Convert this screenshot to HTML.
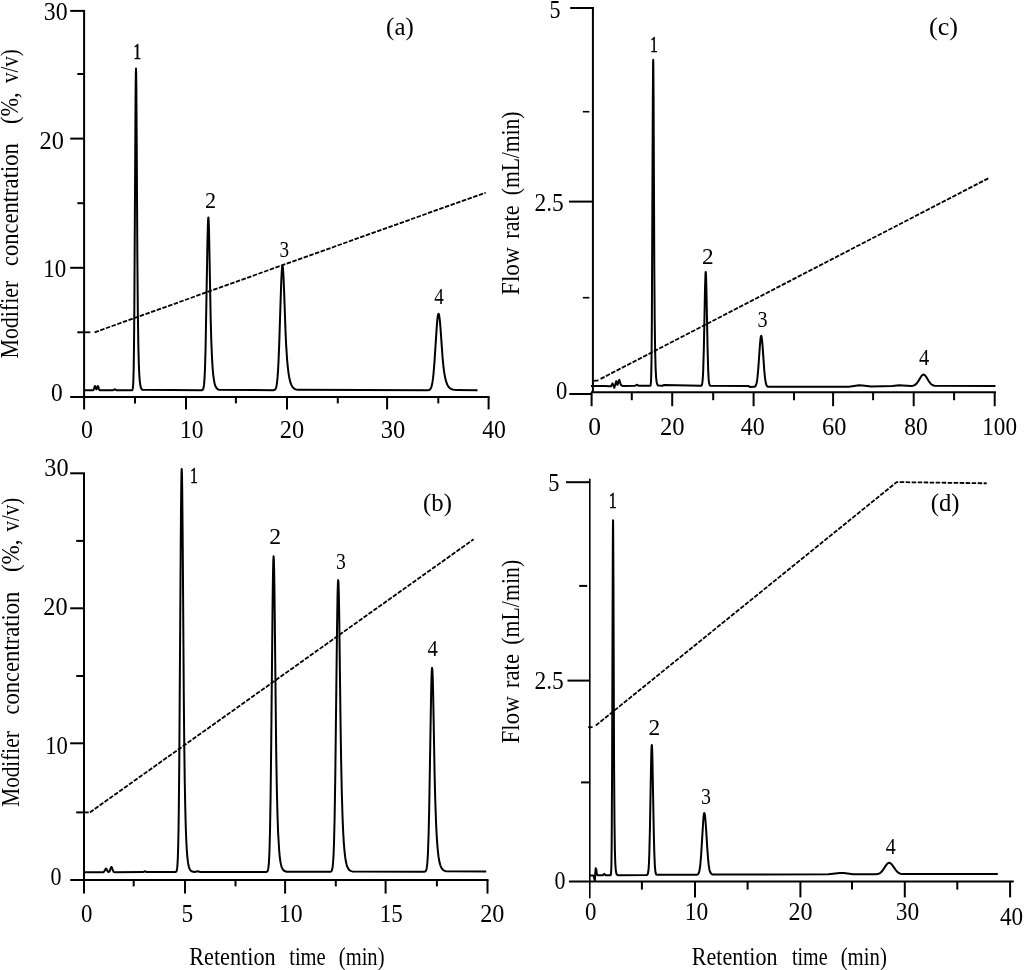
<!DOCTYPE html>
<html><head><meta charset="utf-8"><title>Chromatograms</title>
<style>
html,body{margin:0;padding:0;background:#fff;}
body{width:1024px;height:970px;overflow:hidden;}
svg{display:block;}
svg text{font-family:"Liberation Serif", "Times New Roman", serif;fill:#000;stroke:none;}
</style></head><body>
<svg width="1024" height="970" viewBox="0 0 1024 970" stroke="#000" stroke-linecap="butt">
<rect x="0" y="0" width="1024" height="970" fill="#fff" stroke="none"/>
<g stroke="#000">
<line x1="84.1" y1="10.9" x2="84.1" y2="409.4" stroke-width="2"/>
<line x1="70.2" y1="396.9" x2="489.6" y2="396.9" stroke-width="2"/>
<line x1="488.6" y1="396.9" x2="488.6" y2="409.4" stroke-width="2"/>
<line x1="70.2" y1="10.9" x2="85.1" y2="10.9" stroke-width="2"/>
<line x1="70.2" y1="138.6" x2="84.1" y2="138.6" stroke-width="2"/>
<line x1="70.2" y1="267.8" x2="84.1" y2="267.8" stroke-width="2"/>
<line x1="77.3" y1="74" x2="84.1" y2="74" stroke-width="2"/>
<line x1="77.3" y1="203.2" x2="84.1" y2="203.2" stroke-width="2"/>
<line x1="77.3" y1="332.3" x2="84.1" y2="332.3" stroke-width="2"/>
<line x1="186" y1="396.9" x2="186" y2="409.4" stroke-width="2"/>
<line x1="287" y1="396.9" x2="287" y2="409.4" stroke-width="2"/>
<line x1="387.1" y1="396.9" x2="387.1" y2="409.4" stroke-width="2"/>
<line x1="135" y1="396.9" x2="135" y2="403.4" stroke-width="2"/>
<line x1="235.9" y1="396.9" x2="235.9" y2="403.4" stroke-width="2"/>
<line x1="337.8" y1="396.9" x2="337.8" y2="403.4" stroke-width="2"/>
<line x1="438.3" y1="396.9" x2="438.3" y2="403.4" stroke-width="2"/>
<line x1="84" y1="473.3" x2="84" y2="893.6" stroke-width="2"/>
<line x1="70.2" y1="880.1" x2="488.5" y2="880.1" stroke-width="2"/>
<line x1="487.5" y1="880.1" x2="487.5" y2="893.6" stroke-width="2"/>
<line x1="70.2" y1="473.3" x2="85" y2="473.3" stroke-width="2"/>
<line x1="70.2" y1="608.3" x2="84" y2="608.3" stroke-width="2"/>
<line x1="70.2" y1="743.3" x2="84" y2="743.3" stroke-width="2"/>
<line x1="76.2" y1="540.9" x2="84" y2="540.9" stroke-width="2"/>
<line x1="76.2" y1="676" x2="84" y2="676" stroke-width="2"/>
<line x1="76.2" y1="812.4" x2="84" y2="812.4" stroke-width="2"/>
<line x1="185" y1="880.1" x2="185" y2="893.6" stroke-width="2"/>
<line x1="285.1" y1="880.1" x2="285.1" y2="893.6" stroke-width="2"/>
<line x1="385.6" y1="880.1" x2="385.6" y2="893.6" stroke-width="2"/>
<line x1="133.7" y1="880.1" x2="133.7" y2="886.4" stroke-width="2"/>
<line x1="235.5" y1="880.1" x2="235.5" y2="886.4" stroke-width="2"/>
<line x1="335.8" y1="880.1" x2="335.8" y2="886.4" stroke-width="2"/>
<line x1="436.9" y1="880.1" x2="436.9" y2="886.4" stroke-width="2"/>
<line x1="592.9" y1="7" x2="592.9" y2="392.5" stroke-width="2"/>
<line x1="570.2" y1="8" x2="593.9" y2="8" stroke-width="2"/>
<line x1="569" y1="201.6" x2="592.9" y2="201.6" stroke-width="2"/>
<line x1="569.3" y1="394" x2="591.5" y2="394" stroke-width="2"/>
<line x1="582.8" y1="111.7" x2="589.4" y2="111.7" stroke-width="1.6"/>
<line x1="582.8" y1="297.7" x2="589.4" y2="297.7" stroke-width="1.6"/>
<line x1="591" y1="392.2" x2="996" y2="392.2" stroke-width="2"/>
<line x1="591.6" y1="392.2" x2="591.6" y2="406.2" stroke-width="2"/>
<line x1="672.2" y1="392.2" x2="672.2" y2="406.2" stroke-width="2"/>
<line x1="753.6" y1="392.2" x2="753.6" y2="406.2" stroke-width="2"/>
<line x1="833.1" y1="392.2" x2="833.1" y2="406.2" stroke-width="2"/>
<line x1="913.7" y1="392.2" x2="913.7" y2="406.2" stroke-width="2"/>
<line x1="994.7" y1="392.2" x2="994.7" y2="406.2" stroke-width="2"/>
<line x1="631.8" y1="392.2" x2="631.8" y2="400.2" stroke-width="2"/>
<line x1="713.2" y1="392.2" x2="713.2" y2="400.2" stroke-width="2"/>
<line x1="794" y1="392.2" x2="794" y2="400.2" stroke-width="2"/>
<line x1="873.1" y1="392.2" x2="873.1" y2="400.2" stroke-width="2"/>
<line x1="954.1" y1="392.2" x2="954.1" y2="400.2" stroke-width="2"/>
<line x1="589.8" y1="478.8" x2="589.8" y2="898.3" stroke-width="1.6"/>
<line x1="566" y1="482.2" x2="589.8" y2="482.2" stroke-width="2"/>
<line x1="567.5" y1="680.6" x2="589.8" y2="680.6" stroke-width="2"/>
<line x1="568.9" y1="881.4" x2="1013.8" y2="881.4" stroke-width="2"/>
<line x1="579.2" y1="585.9" x2="587.2" y2="585.9" stroke-width="2"/>
<line x1="581" y1="782.4" x2="589.8" y2="782.4" stroke-width="2"/>
<line x1="695" y1="881.4" x2="695" y2="897.4" stroke-width="2"/>
<line x1="800.4" y1="881.4" x2="800.4" y2="897.4" stroke-width="2"/>
<line x1="904.8" y1="881.4" x2="904.8" y2="897.4" stroke-width="2"/>
<line x1="1010.1" y1="881.4" x2="1010.1" y2="897.4" stroke-width="2"/>
<line x1="641.9" y1="881.4" x2="641.9" y2="889.6" stroke-width="2"/>
<line x1="747.6" y1="881.4" x2="747.6" y2="889.6" stroke-width="2"/>
<line x1="852" y1="881.4" x2="852" y2="889.6" stroke-width="2"/>
<line x1="957.3" y1="881.4" x2="957.3" y2="889.6" stroke-width="2"/>
<path d="M85 390.3 L93.04 390.21 L93.32 390.06 L93.6 389.72 L94.02 388.69 L94.72 386.33 L94.86 386.08 L95 386 L95.14 386.08 L96.12 388.93 L96.4 389.29 L96.54 389.27 L96.82 388.85 L97.66 386.24 L97.76 386.08 L97.9 386 L98.04 386.08 L98.32 386.71 L99.02 389.1 L99.3 389.72 L99.58 390.06 L100.14 390.27 L113.17 390.14 L114.54 389.32 L114.86 389.32 L116.33 390.18 L131.83 390.25 L132.17 390.09 L132.33 389.91 L132.5 389.6 L132.67 389.05 L132.83 388.16 L133 386.73 L133.17 384.48 L133.33 381.12 L133.67 369.13 L134 346.75 L134.33 310.1 L135.5 106.31 L135.67 85.86 L135.83 72.96 L136 68.5 L136.17 72.96 L136.33 85.86 L136.83 162.84 L137.33 254.3 L137.83 311.84 L138.33 345.03 L138.83 364.18 L139.33 375.23 L139.83 381.61 L140.33 385.28 L140.83 387.41 L141.33 388.63 L141.83 389.34 L142.5 389.84 L201.62 390.26 L202.16 390.15 L202.5 389.98 L202.72 389.79 L203 389.4 L203.26 388.8 L203.54 387.83 L203.81 386.34 L204.09 384.13 L204.5 378.94 L205 368.3 L205.58 347.95 L207.5 238.97 L208 221.34 L208.27 217.72 L208.35 217.5 L208.5 218.19 L208.76 222.69 L209.04 231.48 L210.69 319.54 L211.33 342.04 L212.1 359.73 L212.62 367.8 L213.25 374.88 L213.72 378.61 L214.54 383.15 L215.17 385.37 L215.64 386.58 L216.5 388.07 L217.56 389.12 L218.66 389.69 L273.05 390.27 L274.2 390.1 L274.58 389.94 L275 389.64 L275.5 389 L275.73 388.55 L276.12 387.49 L276.5 385.91 L277 382.78 L277.65 376.18 L278.03 370.59 L278.5 361.79 L279.18 344.86 L281.1 285.42 L281.5 275.89 L281.87 269.64 L282 268.06 L282.25 266.17 L282.45 265.7 L282.5 265.73 L282.63 266.05 L283.02 268.99 L283.5 276.63 L284.17 292.83 L285.5 331.14 L286.08 343.67 L287 358.23 L287.62 365.37 L288.5 372.91 L289.15 376.96 L290 380.87 L290.68 383.17 L291.5 385.19 L292.22 386.49 L293 387.53 L294.13 388.56 L295.67 389.37 L297.58 389.87 L427.65 390.25 L428.6 390.12 L429.07 389.98 L429.55 389.75 L430.02 389.38 L430.5 388.81 L431 387.9 L431.5 386.55 L432 384.62 L432.5 381.95 L433 378.4 L433.5 373.86 L434.5 361.69 L436.68 327.9 L437.15 321.83 L437.62 317.23 L438.1 314.45 L438.5 313.7 L438.57 313.72 L439 314.69 L439.52 317.77 L440 322.16 L440.5 328.09 L442.5 356.65 L443.5 367.08 L444.27 372.88 L445.23 378.06 L446.18 381.69 L447.12 384.25 L447.6 385.23 L448.07 386.05 L448.55 386.73 L449.02 387.31 L450 388.22 L451 388.86 L452.5 389.48 L456.62 390.12 L477.52 390.3" stroke-width="2" fill="none" stroke-linejoin="round"/>
<path d="M84.5 872.3 L103 872.23 L103.6 872.06 L104 871.77 L104.6 870.88 L105.6 868.85 L105.8 868.64 L106 868.56 L106.2 868.64 L106.6 869.17 L107.6 871.23 L108 871.74 L108.5 872.02 L108.8 872 L109 871.92 L109.5 871.38 L110 870.27 L110.8 867.83 L111 867.36 L111.2 867.06 L111.4 866.95 L111.6 867.06 L111.8 867.36 L113 870.78 L113.6 871.78 L114 872.07 L115.2 872.24 L143.04 872.12 L144.64 871.31 L145.12 871.36 L146.56 872.11 L175.25 872.1 L175.75 871.99 L176 871.85 L176.25 871.59 L176.5 871.15 L176.75 870.4 L177 869.16 L177.25 867.19 L177.5 864.14 L177.75 859.56 L178 852.89 L178.25 843.51 L178.5 830.71 L178.75 813.83 L179.25 765.9 L180.75 542.18 L181 510.5 L181.25 486.64 L181.5 472.47 L181.7 468.9 L181.75 469.1 L182 475.93 L182.25 492.03 L182.75 547.01 L183.75 691.73 L184.25 744.21 L184.75 781.42 L185.25 807.8 L185.75 826.51 L186.25 839.78 L186.75 849.19 L187.25 855.86 L187.75 860.59 L188.25 863.94 L188.75 866.32 L189.25 868.01 L189.75 869.2 L190.25 870.05 L190.75 870.65 L191.5 871.24 L194.34 871.97 L195.78 871.84 L197.5 871.3 L198.5 871.45 L200.58 872.05 L266.14 871.94 L266.73 871.8 L267.03 871.64 L267.32 871.35 L267.62 870.86 L268 869.74 L268.21 868.74 L268.51 866.69 L268.81 863.57 L269.1 859 L269.5 849.74 L270 831.14 L270.59 796.63 L271.18 746.7 L272.66 597.14 L273 573.73 L273.26 562.11 L273.5 556.8 L273.6 556.3 L273.85 559.33 L274.2 573.36 L274.52 595.35 L276.22 753.35 L276.82 788.09 L277.5 815.65 L278.1 832.28 L279.19 850.95 L279.78 857.09 L280.5 862.17 L281.02 864.75 L281.68 867.03 L282.5 868.91 L283.05 869.74 L283.64 870.39 L284.6 871.06 L286.61 871.67 L330.22 871.8 L330.81 871.65 L331.11 871.48 L331.5 871.07 L331.73 870.69 L332.05 869.85 L332.5 867.8 L332.7 866.4 L333.02 863.24 L333.5 855.89 L334 843.18 L334.65 816.23 L335.3 775.31 L337 630.43 L337.57 594.71 L337.9 583.53 L338 581.63 L338.23 580.12 L338.5 583.36 L338.88 596.25 L339.2 614.38 L340.5 719.54 L341.15 761.8 L341.8 792.34 L342.5 815.82 L343.1 830.34 L343.75 841.86 L344.5 851.23 L345.05 856.19 L345.7 860.53 L346.5 864.26 L347 865.94 L347.65 867.57 L348.62 869.22 L349.6 870.23 L350.57 870.85 L352.2 871.39 L424.15 871.68 L425.1 871.48 L425.5 871.22 L425.73 870.96 L426.05 870.42 L426.5 869.06 L426.68 868.2 L427 866.15 L427.32 863.13 L427.63 858.85 L428 851.84 L428.58 834.96 L429.22 807.25 L431.12 693.43 L431.5 677.81 L431.75 671.33 L432 668.18 L432.1 667.9 L432.38 669.93 L432.7 676.87 L433.02 688.23 L433.65 720.76 L434.6 774.09 L435.23 799.44 L436 821.5 L436.5 832.11 L437.13 842.38 L437.77 850 L438.5 856.38 L439.03 859.8 L439.67 862.89 L440.62 866.08 L441.25 867.53 L442.2 869.04 L443.15 869.99 L444.1 870.6 L445.68 871.17 L486.22 871.6" stroke-width="2" fill="none" stroke-linejoin="round"/>
<path d="M591 385.9 L606 385.9 L608.5 386.3 L611 386.2 L612.5 383.4 L614.3 387.8 L616.3 381.1 L617.5 384.9 L619.3 379.9 L621 385.2 L622.5 385.9 L635.08 385.78 L636.7 384.71 L637.33 384.93 L638.58 385.8 L650.08 385.84 L650.33 385.69 L650.58 385.19 L650.7 384.64 L651 381.48 L651.2 376.58 L651.5 360.91 L651.83 325.14 L652.83 98.03 L653.08 64.2 L653.2 59.7 L653.33 64.2 L653.58 98.03 L654.33 271.18 L654.7 319.71 L655.08 347.71 L655.58 367.56 L656.08 377.09 L656.58 381.67 L657.08 383.87 L657.58 384.92 L658.2 385.51 L662.33 385.77 L664.2 385 L700.7 385.86 L701.12 385.76 L701.53 385.46 L701.74 385.14 L702.03 384.38 L702.37 382.64 L702.78 378.42 L703.2 370.49 L703.83 348.92 L705.08 285.38 L705.5 273.45 L705.7 272 L705.75 272.09 L705.91 273.57 L706.12 278.16 L706.53 294.68 L707.58 348.92 L708.2 370.49 L708.62 378.42 L708.83 380.9 L709.13 383.2 L709.5 384.6 L709.87 385.28 L710.28 385.63 L748.5 385.9 L748.72 386.03 L749.5 386.89 L749.73 387 L754.13 386.87 L754.81 386.63 L755.15 386.39 L755.5 386 L756 385.06 L756.5 383.48 L757 380.97 L757.51 377.13 L758.19 369.91 L760 344.01 L760.56 338.28 L760.9 336.36 L761 336.05 L761.2 335.8 L761.5 336.34 L762 339.55 L762.59 346.31 L764.28 370.44 L765 377.79 L765.63 382.04 L766 383.67 L766.5 385.16 L767 386.03 L767.5 386.51 L768 386.74 L849 386.68 L859 385.36 L862.5 385.46 L871 386.51 L892.5 386.07 L899 385.32 L911 385.91 L913 385.65 L914.22 385.26 L915 384.85 L916.22 383.88 L917 383.02 L918.5 380.87 L921 376.7 L921.55 375.94 L922.22 375.22 L923 374.71 L923.55 374.6 L924 374.67 L924.5 374.92 L925 375.33 L925.55 375.94 L927 378.15 L929 381.51 L930.22 383.18 L931 384.01 L932.22 384.94 L933 385.33 L934.5 385.76 L995.5 386.1" stroke-width="2" fill="none" stroke-linejoin="round"/>
<path d="M589.8 875.5 L593.39 875.46 L594.3 878.5 L594.9 880.8 L595.3 872.5 L595.7 868.3 L596.3 869.5 L596.8 873.5 L597.4 875.2 L602.8 875.27 L604.13 873.87 L604.34 873.9 L605.68 875.27 L610.44 875.25 L610.64 875.1 L610.85 874.64 L611.06 873.26 L611.3 868.68 L611.47 861.48 L611.68 844.71 L612.09 768.23 L612.81 545.31 L612.92 527.67 L613.05 520.3 L613.14 523.69 L613.43 576.87 L614.05 760.79 L614.47 821.95 L614.88 850.38 L615.31 863.94 L615.81 870.77 L616.43 873.81 L616.84 874.57 L617.98 875.14 L646.8 874.9 L647.16 874.76 L647.59 874.29 L647.85 873.69 L648.3 871.51 L648.67 867.78 L648.9 864.18 L649.32 853.82 L649.97 826.56 L651.06 764.59 L651.35 752.56 L651.49 748.64 L651.71 745.33 L651.8 745 L651.92 745.55 L652.14 749.18 L652.4 757.57 L653.87 836.39 L654.31 852.97 L654.85 865.59 L655.39 871.56 L655.61 872.8 L655.9 873.83 L656.3 874.5 L656.95 874.85 L696.5 874.8 L697.3 874.62 L697.9 874.26 L698.3 873.81 L698.6 873.3 L698.95 872.44 L699.3 871.22 L699.8 868.62 L700.35 864.3 L701.05 856.18 L703.3 819.63 L703.5 817.33 L703.85 814.4 L704.2 813.07 L704.3 813 L704.55 813.36 L704.9 815.07 L705.3 818.57 L705.95 827.03 L707.35 849.16 L708.05 858.46 L708.4 862.2 L708.8 865.71 L709.3 868.92 L709.8 871 L710.3 872.35 L710.85 873.29 L711.3 873.78 L711.9 874.2 L712.95 874.57 L828.3 874.35 L839.9 872.92 L843.8 873.06 L853.3 874.27 L875.3 874.32 L877.3 874.09 L878.3 873.83 L879.5 873.33 L880.3 872.83 L881.3 871.99 L882.43 870.72 L886.3 864.93 L886.83 864.24 L887.8 863.3 L888.3 862.99 L888.8 862.83 L889.3 862.81 L889.8 862.93 L890.5 863.3 L891.3 864 L892.3 865.19 L895.8 870.17 L897.3 871.83 L898.8 872.97 L900.3 873.67 L901.8 874.04 L997.8 874.1" stroke-width="2" fill="none" stroke-linejoin="round"/>
<line x1="84.5" y1="332.3" x2="90.3" y2="332.3" stroke-width="1.8"/>
<path d="M94.6 332.3 L485.7 192.6" stroke-width="1.8" fill="none" stroke-dasharray="4.5 1.5" stroke-linecap="butt"/>
<line x1="84.5" y1="812.4" x2="88.7" y2="812.4" stroke-width="1.8"/>
<path d="M89.9 812.4 L473.6 539.3" stroke-width="1.8" fill="none" stroke-dasharray="4.5 1.5" stroke-linecap="butt"/>
<line x1="593.8" y1="380.8" x2="598.5" y2="380.3" stroke-width="1.8"/>
<path d="M600.6 378.9 L989.5 177.7" stroke-width="1.8" fill="none" stroke-dasharray="4.5 1.5" stroke-linecap="butt"/>
<line x1="588.2" y1="727.2" x2="592.6" y2="727.2" stroke-width="1.8"/>
<path d="M595.8 725.5 L896.7 482.1 L986.8 483.3" stroke-width="1.8" fill="none" stroke-dasharray="4.5 1.5" stroke-linecap="butt"/>
<text x="43.76" y="20.4" font-size="26" textLength="23.85" lengthAdjust="spacingAndGlyphs">30</text>
<text x="39.53" y="148.5" font-size="26" textLength="24.4" lengthAdjust="spacingAndGlyphs">20</text>
<text x="43.28" y="276.6" font-size="26" textLength="23" lengthAdjust="spacingAndGlyphs">10</text>
<text x="51.01" y="401" font-size="26" textLength="11.68" lengthAdjust="spacingAndGlyphs">0</text>
<text x="81.09" y="437.9" font-size="26" textLength="11.92" lengthAdjust="spacingAndGlyphs">0</text>
<text x="179.94" y="437.9" font-size="26" textLength="23.45" lengthAdjust="spacingAndGlyphs">10</text>
<text x="279.73" y="437.9" font-size="26" textLength="24.4" lengthAdjust="spacingAndGlyphs">20</text>
<text x="380.83" y="437.9" font-size="26" textLength="24.51" lengthAdjust="spacingAndGlyphs">30</text>
<text x="482.24" y="437.9" font-size="26" textLength="23.77" lengthAdjust="spacingAndGlyphs">40</text>
<text x="44.24" y="476.4" font-size="26" textLength="24.29" lengthAdjust="spacingAndGlyphs">30</text>
<text x="43.33" y="615.2" font-size="26" textLength="24.29" lengthAdjust="spacingAndGlyphs">20</text>
<text x="45.21" y="753.5" font-size="26" textLength="22.65" lengthAdjust="spacingAndGlyphs">10</text>
<text x="50.46" y="885.2" font-size="26" textLength="10.97" lengthAdjust="spacingAndGlyphs">0</text>
<text x="81.03" y="922.3" font-size="26" textLength="11.44" lengthAdjust="spacingAndGlyphs">0</text>
<text x="181.44" y="922.3" font-size="26" textLength="11.67" lengthAdjust="spacingAndGlyphs">5</text>
<text x="278.91" y="922.3" font-size="26" textLength="23.8" lengthAdjust="spacingAndGlyphs">10</text>
<text x="379.78" y="922.3" font-size="26" textLength="23.02" lengthAdjust="spacingAndGlyphs">15</text>
<text x="480.24" y="922.3" font-size="26" textLength="24.18" lengthAdjust="spacingAndGlyphs">20</text>
<text x="549.62" y="18" font-size="26" textLength="11.05" lengthAdjust="spacingAndGlyphs">5</text>
<text x="534.47" y="211.3" font-size="26" textLength="29.35" lengthAdjust="spacingAndGlyphs">2.5</text>
<text x="556.04" y="399.4" font-size="26" textLength="11.33" lengthAdjust="spacingAndGlyphs">0</text>
<text x="588.13" y="434.9" font-size="26" textLength="12.74" lengthAdjust="spacingAndGlyphs">0</text>
<text x="660.02" y="434.9" font-size="26" textLength="24.62" lengthAdjust="spacingAndGlyphs">20</text>
<text x="740.73" y="434.9" font-size="26" textLength="23.98" lengthAdjust="spacingAndGlyphs">40</text>
<text x="821.95" y="434.9" font-size="26" textLength="24.38" lengthAdjust="spacingAndGlyphs">60</text>
<text x="904.21" y="434.9" font-size="26" textLength="23.49" lengthAdjust="spacingAndGlyphs">80</text>
<text x="982.27" y="434.9" font-size="26" textLength="34.72" lengthAdjust="spacingAndGlyphs">100</text>
<text x="548.3" y="491.1" font-size="26" textLength="11.17" lengthAdjust="spacingAndGlyphs">5</text>
<text x="534.47" y="689" font-size="26" textLength="29.35" lengthAdjust="spacingAndGlyphs">2.5</text>
<text x="554.56" y="888.7" font-size="26" textLength="10.97" lengthAdjust="spacingAndGlyphs">0</text>
<text x="585.03" y="919.9" font-size="26" textLength="11.44" lengthAdjust="spacingAndGlyphs">0</text>
<text x="684.74" y="919.9" font-size="26" textLength="23.45" lengthAdjust="spacingAndGlyphs">10</text>
<text x="788.54" y="919.9" font-size="26" textLength="24.07" lengthAdjust="spacingAndGlyphs">20</text>
<text x="895.68" y="919.9" font-size="26" textLength="23.41" lengthAdjust="spacingAndGlyphs">30</text>
<text x="1000.05" y="924.5" font-size="26" textLength="23.13" lengthAdjust="spacingAndGlyphs">40</text>
<text x="133.53" y="59.2" font-size="24" textLength="7.53" lengthAdjust="spacingAndGlyphs" style="stroke:#000;stroke-width:0.7px">1</text>
<text x="204.92" y="208.2" font-size="24" textLength="11.1" lengthAdjust="spacingAndGlyphs">2</text>
<text x="279.58" y="257.3" font-size="24" textLength="9.56" lengthAdjust="spacingAndGlyphs">3</text>
<text x="434.13" y="304" font-size="24" textLength="9.57" lengthAdjust="spacingAndGlyphs">4</text>
<text x="190.27" y="482.5" font-size="24" textLength="7.44" lengthAdjust="spacingAndGlyphs" style="stroke:#000;stroke-width:0.7px">1</text>
<text x="269.26" y="543.6" font-size="24" textLength="11.85" lengthAdjust="spacingAndGlyphs">2</text>
<text x="335.96" y="568.5" font-size="24" textLength="9.8" lengthAdjust="spacingAndGlyphs">3</text>
<text x="427.4" y="656.1" font-size="24" textLength="10.33" lengthAdjust="spacingAndGlyphs">4</text>
<text x="650.32" y="52" font-size="24" textLength="7.44" lengthAdjust="spacingAndGlyphs" style="stroke:#000;stroke-width:0.7px">1</text>
<text x="701.88" y="263.6" font-size="24" textLength="11.6" lengthAdjust="spacingAndGlyphs">2</text>
<text x="757.54" y="326.6" font-size="24" textLength="10.05" lengthAdjust="spacingAndGlyphs">3</text>
<text x="919" y="364.8" font-size="24" textLength="10.22" lengthAdjust="spacingAndGlyphs">4</text>
<text x="609.02" y="508" font-size="24" textLength="7.44" lengthAdjust="spacingAndGlyphs" style="stroke:#000;stroke-width:0.7px">1</text>
<text x="648.47" y="734.7" font-size="24" textLength="11.72" lengthAdjust="spacingAndGlyphs">2</text>
<text x="700.95" y="803.8" font-size="24" textLength="9.93" lengthAdjust="spacingAndGlyphs">3</text>
<text x="885.71" y="853.5" font-size="24" textLength="10" lengthAdjust="spacingAndGlyphs">4</text>
<text x="386.11" y="35.3" font-size="25" textLength="27.58" lengthAdjust="spacingAndGlyphs">(a)</text>
<text x="423.11" y="511.4" font-size="25" textLength="28.88" lengthAdjust="spacingAndGlyphs">(b)</text>
<text x="928.95" y="35.3" font-size="25" textLength="29" lengthAdjust="spacingAndGlyphs">(c)</text>
<text x="930.72" y="511.4" font-size="25" textLength="28.77" lengthAdjust="spacingAndGlyphs">(d)</text>
<text transform="translate(17.6,357.9) rotate(-90)" x="-0.63" y="0" font-size="26" textLength="77.72" lengthAdjust="spacingAndGlyphs">Modifier</text>
<text transform="translate(17.6,265.2) rotate(-90)" x="-0.86" y="0" font-size="26" textLength="122.8" lengthAdjust="spacingAndGlyphs">concentration</text>
<text transform="translate(17.6,123) rotate(-90)" x="-0.98" y="0" font-size="26" textLength="31.59" lengthAdjust="spacingAndGlyphs">(%,</text>
<text transform="translate(17.6,83.1) rotate(-90)" x="-0" y="0" font-size="26" textLength="33.82" lengthAdjust="spacingAndGlyphs">v/v)</text>
<text transform="translate(18.6,806.1) rotate(-90)" x="-0.61" y="0" font-size="26" textLength="75.4" lengthAdjust="spacingAndGlyphs">Modifier</text>
<text transform="translate(18.6,713.7) rotate(-90)" x="-0.86" y="0" font-size="26" textLength="122.9" lengthAdjust="spacingAndGlyphs">concentration</text>
<text transform="translate(18.6,571.1) rotate(-90)" x="-1.02" y="0" font-size="26" textLength="32.78" lengthAdjust="spacingAndGlyphs">(%,</text>
<text transform="translate(18.6,531.5) rotate(-90)" x="-0" y="0" font-size="26" textLength="33.82" lengthAdjust="spacingAndGlyphs">v/v)</text>
<text transform="translate(519.2,294.3) rotate(-90)" x="-0.67" y="0" font-size="26" textLength="47.67" lengthAdjust="spacingAndGlyphs">Flow</text>
<text transform="translate(519.2,238.2) rotate(-90)" x="-0.44" y="0" font-size="26" textLength="33.21" lengthAdjust="spacingAndGlyphs">rate</text>
<text transform="translate(519.2,194.3) rotate(-90)" x="-0.95" y="0" font-size="26" textLength="83.79" lengthAdjust="spacingAndGlyphs">(mL/min)</text>
<text transform="translate(519.2,742.8) rotate(-90)" x="-0.66" y="0" font-size="26" textLength="47.16" lengthAdjust="spacingAndGlyphs">Flow</text>
<text transform="translate(519.2,687.6) rotate(-90)" x="-0.45" y="0" font-size="26" textLength="34.04" lengthAdjust="spacingAndGlyphs">rate</text>
<text transform="translate(519.2,643.8) rotate(-90)" x="-0.96" y="0" font-size="26" textLength="84.92" lengthAdjust="spacingAndGlyphs">(mL/min)</text>
<text x="189.26" y="965.3" font-size="26" textLength="86.38" lengthAdjust="spacingAndGlyphs">Retention</text>
<text x="289.2" y="965.3" font-size="26" textLength="36.51" lengthAdjust="spacingAndGlyphs">time</text>
<text x="338.8" y="965.3" font-size="26" textLength="45.71" lengthAdjust="spacingAndGlyphs">(min)</text>
<text x="691.87" y="965.3" font-size="26" textLength="85.57" lengthAdjust="spacingAndGlyphs">Retention</text>
<text x="792" y="965.3" font-size="26" textLength="35.59" lengthAdjust="spacingAndGlyphs">time</text>
<text x="840.69" y="965.3" font-size="26" textLength="46.23" lengthAdjust="spacingAndGlyphs">(min)</text>
</g>
</svg>
</body></html>
